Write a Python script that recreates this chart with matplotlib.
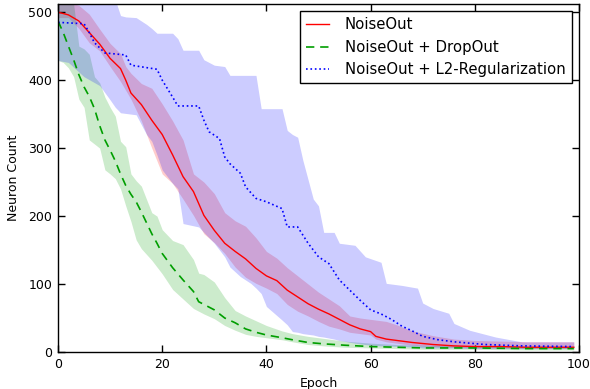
import matplotlib
matplotlib.use('Agg')
import matplotlib.pyplot as plt

# NoiseOut (red, solid)
red_x = [0, 2, 4, 6, 8, 10, 12, 13, 14, 16, 18, 20, 22, 24, 26, 28, 30, 32, 34, 36, 38,
         40, 42, 44, 46, 48, 50, 52, 54, 56, 58, 60, 61, 63, 65, 68, 72, 76, 80, 85, 90, 95, 99]
red_mean = [500, 496, 487, 470, 453, 432, 417, 400, 381, 364, 341, 320, 290, 258, 236, 201, 179, 160, 148, 137, 123,
            112, 105, 91, 81, 71, 63, 56, 48, 40, 34, 30, 23, 19, 17, 14, 11, 9, 8, 8, 7, 7, 7]
red_upper = [515, 515, 510, 497, 475, 454, 439, 420, 410, 395, 388, 365, 340, 312, 262, 250, 233, 205, 193, 185, 168,
             148, 138, 124, 112, 100, 88, 78, 68, 53, 50, 48, 47, 45, 40, 31, 24, 19, 17, 16, 15, 15, 15]
red_lower = [492, 492, 476, 455, 443, 420, 398, 385, 372, 340, 300, 262, 248, 225, 201, 174, 161, 145, 125, 110, 101,
             94, 86, 70, 60, 53, 45, 38, 34, 29, 27, 25, 19, 15, 13, 10, 8, 7, 6, 6, 5, 5, 5]

# NoiseOut + DropOut (green, dashed)
green_x = [0, 1, 2, 3, 4, 5, 6, 7, 8, 9, 10, 11, 12, 13, 14, 15, 16, 18, 19, 20, 22,
           24, 26, 27, 28, 30, 32, 34, 36, 38, 40, 43, 45, 48, 51, 55, 60, 65, 70, 80, 90, 99]
green_mean = [487, 470, 450, 430, 408, 390, 376, 358, 333, 312, 297, 281, 262, 245, 232, 221, 206, 174, 160, 145, 124,
              106, 89, 74, 70, 62, 50, 43, 34, 29, 25, 21, 18, 14, 12, 10, 8, 7, 6, 6, 5, 5]
green_upper = [515, 515, 515, 512, 450, 446, 438, 405, 396, 375, 360, 347, 310, 302, 262, 252, 244, 205, 200, 180, 164,
               158, 136, 116, 114, 103, 80, 61, 53, 46, 39, 31, 27, 23, 20, 16, 13, 11, 10, 9, 8, 8]
green_lower = [429, 426, 418, 405, 372, 360, 312, 306, 300, 268, 262, 255, 240, 215, 192, 165, 152, 135, 125, 115, 92,
               78, 64, 60, 56, 49, 39, 32, 26, 23, 21, 18, 15, 11, 9, 7, 6, 5, 4, 4, 3, 3]

# NoiseOut + L2-Regularization (blue, dotted)
blue_x = [0, 5, 6, 7, 9, 13, 14, 19, 20, 22, 23, 27, 28, 29, 31, 32, 33, 35, 36, 38, 40,
          43, 44, 46, 48, 50, 52, 54, 56, 58, 60, 62, 64, 66, 68, 70, 73, 76, 82, 89, 99]
blue_mean = [485, 483, 470, 455, 440, 437, 422, 416, 400, 375, 362, 362, 341, 324, 314, 287, 277, 263, 243, 226, 221,
             211, 184, 184, 160, 140, 130, 106, 91, 76, 62, 56, 48, 38, 31, 23, 18, 15, 11, 9, 8]
blue_band_x = [0, 2, 5, 8, 10, 11, 12, 13, 15, 17, 18, 19, 20, 22, 23, 24, 27, 28, 30, 32, 33, 35, 37, 38, 39,
               40, 43, 44, 45, 46, 47, 49, 50, 51, 53, 54, 57, 59, 62, 63, 66, 69, 70, 72, 75, 76, 79, 84, 89, 99]
blue_upper = [520, 520, 520, 520, 520, 518, 495, 493, 492, 482, 476, 469, 469, 469, 461, 444, 444, 430, 422, 420,
              407, 407, 407, 407, 358, 358, 358, 326, 320, 316, 282, 225, 215, 176, 176, 160, 157, 140, 132, 101,
              98, 94, 72, 64, 57, 42, 32, 22, 15, 15]
blue_lower = [429, 426, 405, 392, 371, 360, 352, 351, 349, 320, 310, 290, 268, 248, 240, 189, 184, 176, 160, 140,
              125, 111, 101, 94, 86, 67, 47, 40, 30, 29, 27, 25, 23, 22, 19, 17, 13, 11, 9, 9,
              8, 7, 6, 6, 6, 6, 5, 5, 5, 5]

LABELS = ['NoiseOut', 'NoiseOut + DropOut', 'NoiseOut + L2-Regularization']
GREEN = (0.0, 0.62, 0.0)

plt.rcParams['font.family'] = 'DejaVu Sans'
plt.rcParams['xtick.direction'] = 'in'
plt.rcParams['ytick.direction'] = 'in'
plt.rcParams['xtick.top'] = True
plt.rcParams['ytick.right'] = True

fig = plt.figure(figsize=(5.9, 3.89), dpi=100)
ax = fig.add_axes([58 / 590, 37 / 389, 521 / 590, 348 / 389])

ax.fill_between(red_x, red_lower, red_upper, color='red', alpha=0.2, linewidth=0)
ax.fill_between(green_x, green_lower, green_upper, color=GREEN, alpha=0.2, linewidth=0)
ax.fill_between(blue_band_x, blue_lower, blue_upper, color='blue', alpha=0.2, linewidth=0)

ax.plot(red_x, red_mean, color='red', linewidth=1.0, label=LABELS[0])
ax.plot(green_x, green_mean, color=GREEN, linewidth=1.2, dashes=(5, 3.5), label=LABELS[1])
ax.plot(blue_x, blue_mean, color='blue', linewidth=1.2, linestyle=':', label=LABELS[2])

ax.set_xlim(0, 100)
ax.set_ylim(0, 512)
ax.set_xticks(range(0, 101, 20))
ax.set_yticks(range(0, 501, 100))
ax.tick_params(labelsize=9, length=5, width=1, pad=4)
for s in ax.spines.values():
    s.set_linewidth(1.0)
ax.set_xlabel('Epoch', fontsize=9, labelpad=5)
ax.set_ylabel('Neuron Count', fontsize=9, labelpad=6)

leg = ax.legend(loc='upper right', fontsize=10.7, fancybox=False, framealpha=1,
                edgecolor='black', handlelength=1.5, handletextpad=1.1,
                borderaxespad=0.5, labelspacing=0.5)
leg.get_frame().set_linewidth(1.0)

fig.savefig('out.png', dpi=100)
